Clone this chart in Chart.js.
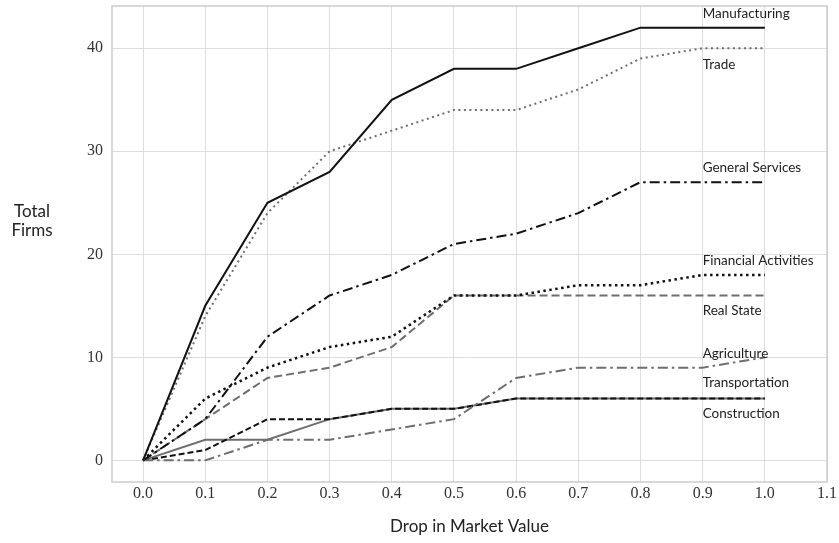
<!DOCTYPE html>
<html>
<head>
<meta charset="utf-8">
<script src="https://cdn.jsdelivr.net/npm/chart.js@4"></script>
<style>
  html, body { margin: 0; padding: 0; background: #fff; }
  #wrap { width: 839px; height: 543px; }
</style>
</head>
<body>
<div id="wrap"><canvas id="firmsChart"></canvas></div>
<script>
// Datos
const drops = [0.0, 0.1, 0.2, 0.3, 0.4, 0.5, 0.6, 0.7, 0.8, 0.9, 1.0];
const manufacturing = [0, 15, 25, 28, 35, 38, 38, 40, 42, 42, 42];
const trade = [0, 14, 24, 30, 32, 34, 34, 36, 39, 40, 40];
const generalServices = [0, 4, 12, 16, 18, 21, 22, 24, 27, 27, 27];
const financialActivities = [0, 6, 9, 11, 12, 16, 16, 17, 17, 18, 18];
const realState = [0, 4, 8, 9, 11, 16, 16, 16, 16, 16, 16];
const agriculture = [0, 0, 2, 2, 3, 4, 8, 9, 9, 9, 10];
const transportation = [0, 1, 4, 4, 5, 5, 6, 6, 6, 6, 6];
const construction = [0, 2, 2, 4, 5, 5, 6, 6, 6, 6, 6];

const xTicks = [0.0, 0.1, 0.2, 0.3, 0.4, 0.5, 0.6, 0.7, 0.8, 0.9, 1.0, 1.1];
const yTicks = [0, 10, 20, 30, 40];

// Etiquetas al final de cada serie (en unidades de datos)
const endLabels = ['Manufacturing', 'Trade', 'General Services', 'Financial Activities',
  'Real State', 'Agriculture', 'Transportation', 'Construction'];
const endLabelX = 0.9;
const endLabelY = [43.4, 38.4, 28.4, 19.4, 14.5, 10.4, 7.5, 4.5];

const BLACK = '#111111';
const GRAY = '#6e6e6e';

function serie(label, values, color, dash, width) {
  return {
    label,
    data: drops.map((x, i) => ({ x, y: values[i] })),
    borderColor: color,
    borderDash: dash,
    borderWidth: width,
    pointRadius: 0,
    fill: false,
    tension: 0
  };
}

const datasets = [
  serie('Manufacturing', manufacturing, BLACK, [], 2),
  serie('Trade', trade, GRAY, [2, 3.5], 2),
  serie('General Services', generalServices, BLACK, [10, 4, 2.5, 4], 2),
  serie('Financial Activities', financialActivities, BLACK, [2.5, 3.5], 2.5),
  serie('Real State', realState, GRAY, [8, 4], 2),
  serie('Agriculture', agriculture, GRAY, [10, 4, 2.5, 4], 2),
  serie('Transportation', transportation, BLACK, [6, 3], 2),
  serie('Construction', construction, GRAY, [], 2)
];

// Marco, título del eje Y horizontal y etiquetas de las series
const decorPlugin = {
  id: 'decor',
  afterDatasetsDraw(chart) {
    const { ctx, chartArea: a, scales } = chart;
    ctx.save();
    ctx.strokeStyle = '#cccccc';
    ctx.lineWidth = 1.5;
    ctx.strokeRect(a.left, a.top, a.right - a.left, a.bottom - a.top);

    ctx.fillStyle = '#222';
    ctx.font = '13.5px Lato, "DejaVu Sans", sans-serif';
    ctx.textAlign = 'left';
    ctx.textBaseline = 'middle';
    endLabels.forEach((t, i) => {
      ctx.fillText(t, scales.x.getPixelForValue(endLabelX), scales.y.getPixelForValue(endLabelY[i]));
    });

    ctx.font = '17px Lato, "DejaVu Sans", sans-serif';
    ctx.textAlign = 'center';
    ctx.fillText('Total', 32, 212);
    ctx.fillText('Firms', 32, 231);
    ctx.restore();
  }
};

const ctx = document.getElementById('firmsChart').getContext('2d');
const firmsChart = new Chart(ctx, {
  type: 'line',
  data: { datasets },
  options: {
    responsive: true,
    maintainAspectRatio: false,
    animation: false,
    layout: { padding: { top: 6, right: 12, left: 0, bottom: 0 } },
    plugins: { legend: { display: false }, tooltip: { enabled: false } },
    scales: {
      x: {
        type: 'linear',
        min: -0.05,
        max: 1.1,
        afterBuildTicks: (s) => { s.ticks = xTicks.map(v => ({ value: v })); },
        afterFit: (s) => { s.height = 61; s.paddingLeft = 0; s.paddingRight = 0; },
        grid: { color: '#dddddd', lineWidth: 1, drawTicks: false },
        border: { display: false },
        ticks: {
          padding: 2,
          color: '#333',
          font: { family: '"Liberation Serif", "DejaVu Serif", serif', size: 16 },
          callback: (v) => Number(v).toFixed(1)
        },
        title: {
          display: true,
          text: 'Drop in Market Value',
          color: '#222',
          font: { family: 'Lato, "DejaVu Sans", sans-serif', size: 17 },
          padding: { top: 4, bottom: 6 }
        }
      },
      y: {
        min: -2.1,
        max: 44.1,
        afterBuildTicks: (s) => { s.ticks = yTicks.map(v => ({ value: v })); },
        afterFit: (s) => { s.width = 112; s.paddingTop = 0; s.paddingBottom = 0; },
        grid: { color: '#dddddd', lineWidth: 1, drawTicks: false },
        border: { display: false },
        ticks: {
          padding: 9,
          color: '#333',
          font: { family: '"Liberation Serif", "DejaVu Serif", serif', size: 16 }
        }
      }
    }
  },
  plugins: [decorPlugin]
});
</script>
</body>
</html>
